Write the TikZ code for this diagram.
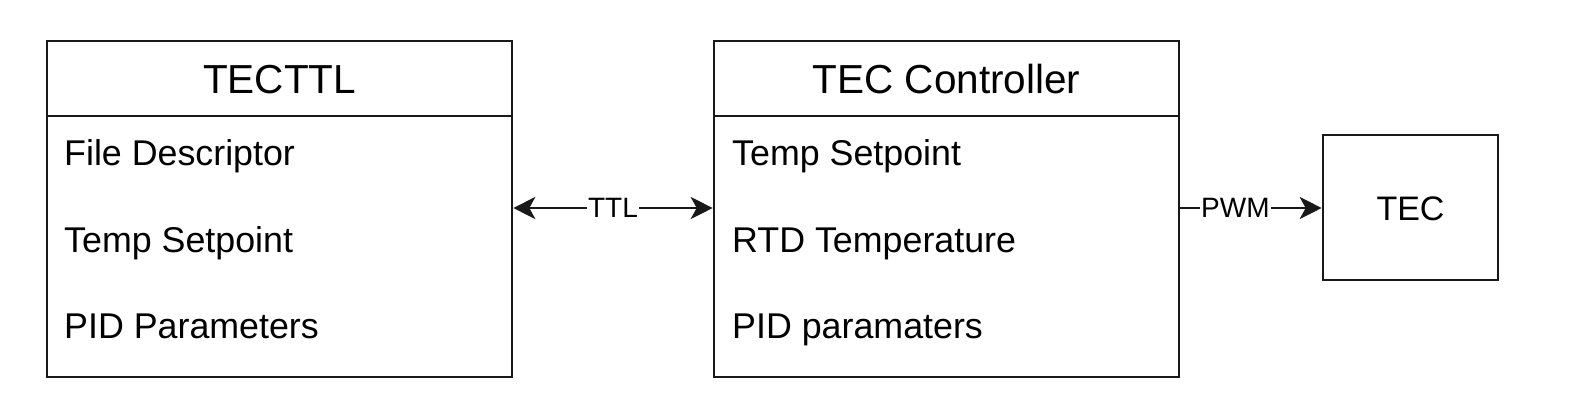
\documentclass[tikz,border=0pt]{standalone}
\usepackage{fontspec}
\setmainfont{Liberation Sans}
\usetikzlibrary{arrows.meta}
\begin{document}
\begin{tikzpicture}[x=1pt,y=-1pt,
  box/.style={draw=black!90, line width=2.6pt, rectangle, inner sep=0pt},
  title/.style={font=\fontsize{40.5}{46}\selectfont, anchor=base, inner sep=0pt},
  item/.style={font=\fontsize{35.8}{40}\selectfont, anchor=base west, inner sep=0pt},
  tip/.style={Stealth[length=22pt,width=22pt,inset=6pt]},
  conn/.style={line width=2.6pt, draw=black!90, -{Stealth[length=22pt,width=22pt,inset=6pt]}},
  lbl/.style={font=\fontsize{28}{32}\selectfont, fill=white, inner sep=1pt}
]
\useasboundingbox (0,0) rectangle (1584,416);
% left class box
\node[box, minimum width=465pt, minimum height=336pt] (tecttl) at (279.5,209) {};
\coordinate (lh1) at (47,116);
\coordinate (lh2) at (512,116);
\draw[line width=2.6pt, black!90] (lh1) -- (lh2);
\node[title] (tecttlT) at (279.5,93) {TECTTL};
\node[item] (l1) at (64,165) {File Descriptor};
\node[item] (l2) at (64,252) {Temp Setpoint};
\node[item] (l3) at (64,338) {PID Parameters};
% middle class box
\node[box, minimum width=465pt, minimum height=336pt] (ctrl) at (946.5,209) {};
\coordinate (mh1) at (714,116);
\coordinate (mh2) at (1179,116);
\draw[line width=2.6pt, black!90] (mh1) -- (mh2);
\node[title] (ctrlT) at (946.5,93) {TEC Controller};
\node[item] (m1) at (732,165) {Temp Setpoint};
\node[item] (m2) at (732,252) {RTD Temperature};
\node[item] (m3) at (732,338) {PID paramaters};
% TEC box
\node[box, minimum width=175pt, minimum height=145pt] (tec) at (1410.5,207.5) {};
\node[title, font=\fontsize{34}{38}\selectfont] (tecT) at (1410.5,220) {TEC};
% connectors
\draw[conn, {Stealth[length=22pt,width=22pt,inset=6pt]}-{Stealth[length=22pt,width=22pt,inset=6pt]}] (tecttl.east |- 0,208) -- node[lbl] {TTL} (ctrl.west |- 0,208);
\draw[conn] (ctrl.east |- 0,208) -- node[lbl, pos=0.39] {PWM} (tec.west |- 0,208);
\end{tikzpicture}
\end{document}
